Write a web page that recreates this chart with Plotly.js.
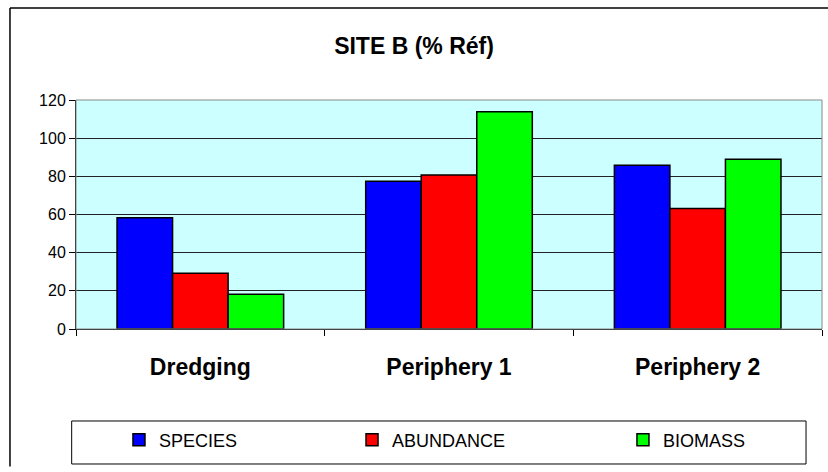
<!DOCTYPE html>
<html>
<head>
<meta charset="utf-8">
<script src="https://cdn.plot.ly/plotly-3.0.1.min.js"></script>
<style>html,body{margin:0;padding:0;background:#fff;}#chart{width:828px;height:472px;}</style>
</head>
<body>
<div id="chart"></div>
<script>
var categories = ["Dredging", "Periphery 1", "Periphery 2"];
var species = [58.3, 77.4, 85.8];
var abundance = [29.2, 80.7, 63.2];
var biomass = [18.2, 113.9, 88.9];
var seriesNames = ["SPECIES", "ABUNDANCE", "BIOMASS"];
var yTicks = [0, 20, 40, 60, 80, 100, 120];

var FONT = "Liberation Sans, Arial, sans-serif";
function bar(name, vals, color, leg) {
  return {
    type: "bar", name: name, x: categories, y: vals, legend: leg,
    marker: {color: color, line: {color: "#000", width: 1.5}},
    hoverinfo: "x+y+name"
  };
}
var data = [
  bar(seriesNames[0], species, "#0000FF", "legend"),
  bar(seriesNames[1], abundance, "#FF0000", "legend2"),
  bar(seriesNames[2], biomass, "#00FF00", "legend3")
];
function leg(x) {
  return {x: x, y: -0.485, xanchor: "left", yanchor: "middle", orientation: "h",
    bgcolor: "rgba(0,0,0,0)", borderwidth: 0, font: {family: FONT, size: 18, color: "#000"}};
}
var layout = {
  width: 828, height: 472,
  margin: {l: 76, r: 6, t: 100, b: 143},
  paper_bgcolor: "#fff", plot_bgcolor: "#CCFFFF",
  title: {text: "<b>SITE B (% Réf)</b>", font: {family: FONT, size: 23, color: "#000"},
    x: 0.5, xanchor: "center", y: 0.903, yanchor: "middle", xref: "container"},
  barmode: "group", bargap: 0.33, bargroupgap: 0,
  xaxis: {type: "category", range: [-0.5, 2.5], tickson: "boundaries", ticks: "outside",
    ticklen: 6, tickcolor: "#000", tickwidth: 1, showline: true, linecolor: "#000", linewidth: 1,
    showgrid: false, tickfont: {family: FONT, size: 23, color: "#000", weight: "bold"},
    ticklabelstandoff: 17, fixedrange: true},
  yaxis: {range: [0, 120], tickvals: yTicks, ticks: "outside", ticklen: 6, tickcolor: "#000",
    showline: true, linecolor: "#000", linewidth: 1, showgrid: true, gridcolor: "#222", gridwidth: 1,
    zeroline: false, tickfont: {family: FONT, size: 16, color: "#000"}, fixedrange: true},
  showlegend: true,
  legend: leg(0.0576), legend2: leg(0.370), legend3: leg(0.7332),
  shapes: [
    {type: "rect", xref: "paper", yref: "paper", x0: 0, x1: 1, y0: 0, y1: 1,
      line: {color: "#888", width: 1}, layer: "above"},
    {type: "rect", xref: "paper", yref: "paper", x0: -0.0058, x1: 0.9786, y0: -0.5895, y1: -0.4017,
      line: {color: "#000", width: 1}, fillcolor: "rgba(0,0,0,0)"},
    {type: "line", xref: "paper", yref: "paper", x0: -0.0885, x1: -0.0885, y0: -0.6, y1: 1.4017,
      line: {color: "#000", width: 1.5}},
    {type: "line", xref: "paper", yref: "paper", x0: -0.0885, x1: 1.01, y0: 1.4017, y1: 1.4017,
      line: {color: "#000", width: 1.5}}
  ]
};
Plotly.newPlot("chart", data, layout, {displayModeBar: false});
</script>
</body>
</html>
